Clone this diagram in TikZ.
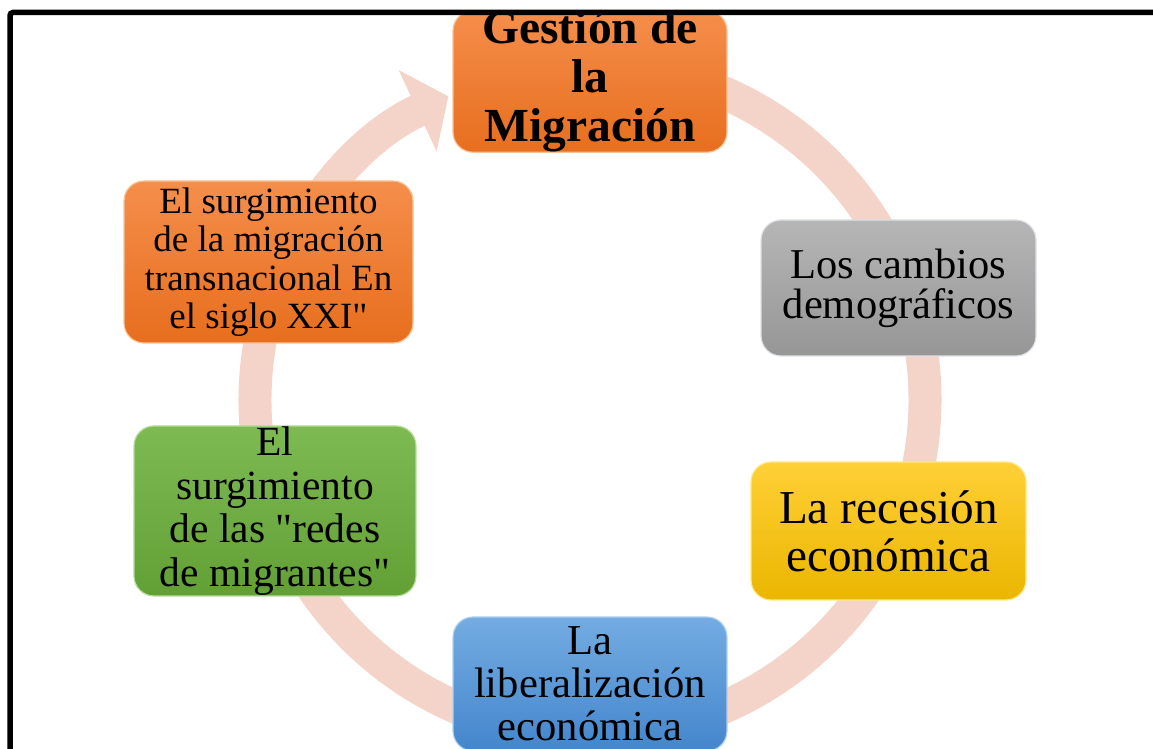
\documentclass[tikz,border=0pt]{standalone}
\usepackage{fontspec}
\setmainfont{Liberation Serif}[Ligatures=TeXOff]
\usetikzlibrary{arrows.meta}

\definecolor{ringpink}{RGB}{244,212,201}
\definecolor{orangetop}{RGB}{245,142,75}
\definecolor{orangebot}{RGB}{231,110,30}
\definecolor{orangeedge}{RGB}{250,195,150}
\definecolor{graytop}{RGB}{182,182,182}
\definecolor{graybot}{RGB}{150,150,150}
\definecolor{grayedge}{RGB}{222,226,232}
\definecolor{yellowtop}{RGB}{255,208,55}
\definecolor{yellowbot}{RGB}{234,182,0}
\definecolor{yellowedge}{RGB}{255,232,140}
\definecolor{greentop}{RGB}{126,186,82}
\definecolor{greenbot}{RGB}{98,160,54}
\definecolor{greenedge}{RGB}{180,220,150}
\definecolor{bluetop}{RGB}{116,172,226}
\definecolor{bluebot}{RGB}{68,134,204}
\definecolor{blueedge}{RGB}{175,210,240}

\tikzset{
  cyclebox/.style = {rectangle, rounded corners=20pt, inner sep=0pt, align=center, line width=1.2pt},
  orangebox/.style = {cyclebox, draw=orangeedge, top color=orangetop, bottom color=orangebot},
  graybox/.style = {cyclebox, draw=grayedge, top color=graytop, bottom color=graybot},
  yellowbox/.style = {cyclebox, draw=yellowedge, top color=yellowtop, bottom color=yellowbot},
  greenbox/.style = {cyclebox, draw=greenedge, top color=greentop, bottom color=greenbot},
  bluebox/.style = {cyclebox, draw=blueedge, top color=bluetop, bottom color=bluebot},
  ring/.style = {line width=33pt, draw=ringpink, -{Triangle[width=88pt, length=34pt]}},
  frame/.style = {line width=5.5pt, rounded corners=3pt}
}

\begin{document}
\begin{tikzpicture}[x=1pt, y=1pt]
  \useasboundingbox (0,0) rectangle (1153,749);

  \begin{scope}
    \clip (0,0) rectangle (1153,739);

    % Circular arrow behind the boxes
    \coordinate (c) at (590,349);
    \draw[ring] (c) ++(85:335) arc[start angle=85, end angle=-245, radius=335];

    % Boxes round the cycle
    \node[orangebox, minimum width=274pt, minimum height=135pt,
          font=\fontsize{47.5}{49}\selectfont\bfseries] (gestion) at (590,667.5)
          {Gestión de\\la\\Migración};
    \node[graybox, minimum width=275pt, minimum height=136pt,
          font=\fontsize{42.5}{40}\selectfont] (cambios) at (898.5,461)
          {Los cambios\\demográficos};
    \node[yellowbox, minimum width=275pt, minimum height=138pt,
          font=\fontsize{47.2}{48}\selectfont] (recesion) at (888.5,218)
          {La recesión\\económica};
    \node[bluebox, minimum width=274pt, minimum height=134pt,
          font=\fontsize{42.6}{43}\selectfont] (liberal) at (590,65)
          {La\\liberalización\\económica};
    \node[greenbox, minimum width=282pt, minimum height=170pt,
          font=\fontsize{41.5}{43.5}\selectfont] (redes) at (275,238)
          {El\\surgimiento\\de las "redes\\de migrantes"};
    \node[orangebox, minimum width=289pt, minimum height=162pt,
          font=\fontsize{37}{38.5}\selectfont] (transnac) at (268.5,487)
          {El surgimiento\\de la migración\\transnacional En\\el siglo XXI"};
  \end{scope}

  % Frame
  \draw[frame] (10,-20) -- (10,736.5) -- (1175,736.5);

\end{tikzpicture}
\end{document}
